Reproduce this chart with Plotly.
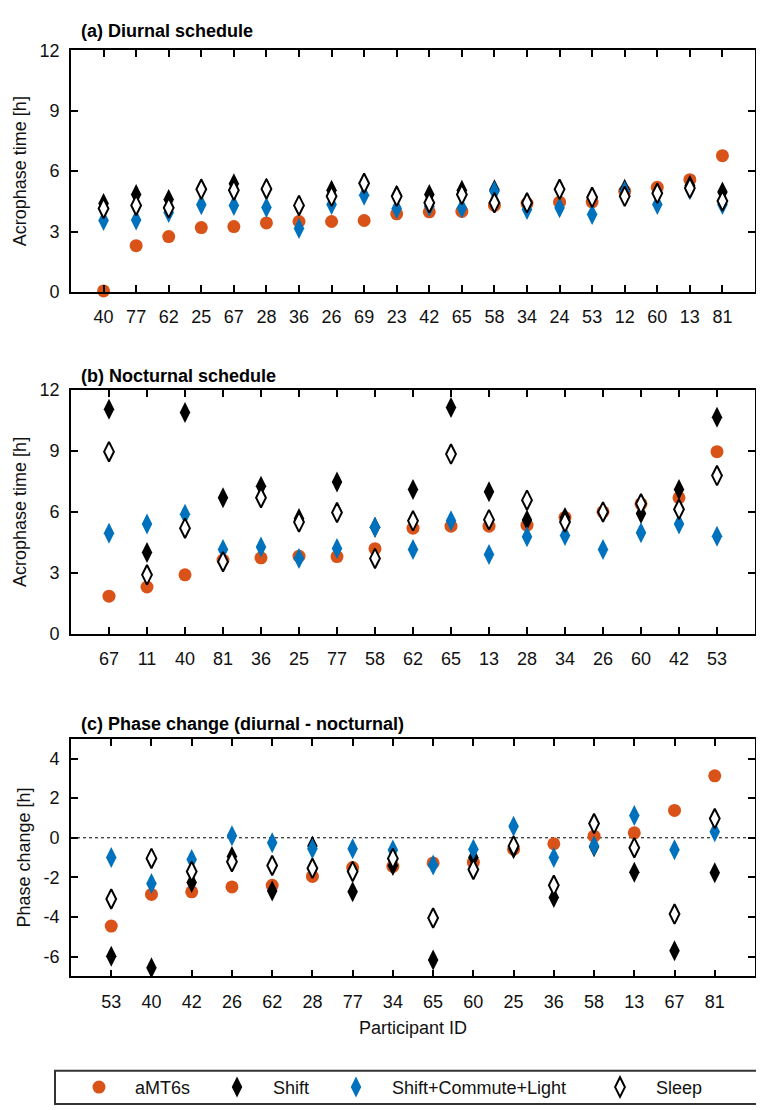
import plotly.graph_objects as go
from plotly.subplots import make_subplots

# (a) diurnal schedule
ids_a = ["40", "77", "62", "25", "67", "28", "36", "26", "69", "23",
         "42", "65", "58", "34", "24", "53", "12", "60", "13", "81"]
mt_a = [0.05, 2.3, 2.75, 3.2, 3.25, 3.43, 3.5, 3.5, 3.55, 3.88,
        3.98, 4.0, 4.3, 4.4, 4.46, 4.48, 5.0, 5.2, 5.58, 6.77]
shift_a = [4.4, 4.84, 4.6, 5.13, 5.38, 5.15, 4.28, 5.05, 5.4, 4.8,
           4.84, 5.05, 5.08, 4.4, 5.1, 4.7, 5.1, 4.92, 5.3, 4.97]
scl_a = [3.55, 3.58, 3.95, 4.33, 4.3, 4.2, 3.15, 4.35, 4.8, 4.15,
         4.26, 4.17, 5.0, 4.1, 4.18, 3.85, 5.0, 4.35, 5.08, 4.35]
sleep_a = [4.15, 4.3, 4.18, 5.1, 5.05, 5.12, 4.3, 4.75, 5.4, 4.75,
           4.43, 4.84, 4.43, 4.43, 5.1, 4.7, 4.75, 4.9, 5.16, 4.52]

# (b) nocturnal schedule
ids_b = ["67", "11", "40", "81", "36", "25", "77", "58", "62", "65",
         "13", "28", "34", "26", "60", "42", "53"]
mt_b = [1.85, 2.3, 2.9, 3.63, 3.74, 3.82, 3.8, 4.19, 5.2, 5.3,
        5.3, 5.35, 5.73, 6.0, 6.4, 6.7, 8.97]
shift_b = [11.06, 4.0, 10.9, 6.7, 7.27, 5.68, 7.47, 5.25, 7.1, 11.15,
           7.0, 5.6, 5.73, 6.0, 5.92, 7.1, 10.66]
scl_b = [4.95, 5.4, 5.89, 4.15, 4.27, 3.71, 4.2, 5.24, 4.15, 5.56,
         3.9, 4.78, 4.84, 4.15, 4.98, 5.4, 4.8]
sleep_b = [8.97, 2.9, 5.2, 3.55, 6.7, 5.5, 5.97, 3.71, 5.56, 8.85,
           5.62, 6.58, 5.5, 6.0, 6.4, 6.13, 7.79]

# (c) phase change
ids_c = ["53", "40", "42", "26", "62", "28", "77", "34", "65", "60",
         "25", "36", "58", "13", "67", "81"]
mt_c = [-4.46, -2.86, -2.73, -2.48, -2.4, -1.95, -1.5, -1.44, -1.27, -1.24,
        -0.58, -0.3, 0.08, 0.25, 1.38, 3.13]
shift_c = [-5.98, -6.56, -2.26, -0.95, -2.69, -0.42, -2.73, -1.4, -6.17, -0.99,
           -0.55, -3.02, -0.45, -1.74, -5.7, -1.77]
scl_c = [-0.99, -2.31, -1.1, 0.1, -0.25, -0.55, -0.55, -0.62, -1.37, -0.58,
         0.58, -1.0, -0.42, 1.13, -0.61, 0.3]
sleep_c = [-3.09, -1.04, -1.7, -1.21, -1.4, -1.54, -1.7, -1.04, -4.05, -1.6,
           -0.41, -2.4, 0.72, -0.5, -3.85, 0.97]

acro_ticks = [0, 3, 6, 9, 12]
phase_ticks = [-6, -4, -2, 0, 2, 4]
phase_ticktext = ["-6", "-4", "-2", "0", "2", "4"]

names = ["aMT6s", "Shift", "Shift+Commute+Light", "Sleep"]
ORANGE = "#D95319"
BLUE = "#0072BD"
FONT = "Liberation Sans, Arial, sans-serif"

W, H = 764, 1110

def px(x):
    return x / W

def py(y):
    return 1 - y / H

markers = [
    dict(symbol="circle", size=13, color=ORANGE, line=dict(width=0)),
    dict(symbol="diamond-tall", size=15, color="black", line=dict(width=0)),
    dict(symbol="diamond-tall", size=15, color=BLUE, line=dict(width=0)),
    dict(symbol="diamond-tall", size=14, color="white", line=dict(width=2, color="black")),
]

fig = make_subplots(rows=3, cols=1)

panels = [
    (ids_a, [mt_a, shift_a, scl_a, sleep_a]),
    (ids_b, [mt_b, shift_b, scl_b, sleep_b]),
    (ids_c, [mt_c, shift_c, scl_c, sleep_c]),
]
legend_ids = ["legend", "legend2", "legend3", "legend4"]

for r, (ids, series) in enumerate(panels, start=1):
    for k, vals in enumerate(series):
        fig.add_trace(go.Scatter(
            x=ids, y=vals, mode="markers", name=names[k],
            marker=markers[k], showlegend=(r == 1),
            legend=legend_ids[k], cliponaxis=False,
        ), row=r, col=1)

axis_common = dict(
    showline=True, linecolor="black", linewidth=1.8, mirror="ticks",
    ticks="inside", ticklen=7, tickwidth=1.5, tickcolor="black",
    showgrid=False, zeroline=False,
    tickfont=dict(family=FONT, size=18, color="#111"),
)

# panel positions (pixels): top, bottom
tops = [(33, 279), (379, 627), (734, 976)]
for r, (ids, _) in enumerate(panels, start=1):
    t, b = tops[r - 1]
    xa = "xaxis" if r == 1 else f"xaxis{r}"
    ya = "yaxis" if r == 1 else f"yaxis{r}"
    fig.layout[xa].update(
        domain=[px(63), px(747)], type="category",
        range=[-1, len(ids)], ticklabelstandoff=8, **axis_common)
    fig.layout[ya].update(domain=[py(b), py(t)], ticklabelstandoff=6, **axis_common)

fig.layout.yaxis.update(range=[0, 12], tickvals=acro_ticks)
fig.layout.yaxis2.update(range=[0, 12], tickvals=acro_ticks)
fig.layout.yaxis3.update(range=[-7, 5], tickvals=phase_ticks, ticktext=phase_ticktext)
fig.layout.xaxis3.update(
    title=dict(text="Participant ID", standoff=10,
               font=dict(family=FONT, size=18, color="#111")))

# y-axis titles
ytitles = [("Acrophase time [h]", 0, 12), ("Acrophase time [h]", 1, 12),
           ("Phase change [h]", 2, 16)]
for text, i, xc in ytitles:
    t, b = tops[i]
    fig.add_annotation(text=text, xref="paper", yref="paper",
                       x=px(xc), y=py((t + b) / 2), textangle=-90,
                       xanchor="center", yanchor="middle", showarrow=False,
                       font=dict(family=FONT, size=18, color="#111"))

fig.add_shape(type="line", xref="x3 domain", x0=0, x1=1, yref="y3", y0=0, y1=0,
              line=dict(color="black", width=1, dash="dot"), layer="below")

titles = [("(a) Diurnal schedule", 13), ("(b) Nocturnal schedule", 365),
          ("(c) Phase change (diurnal - nocturnal)", 719)]
for text, y in titles:
    fig.add_annotation(text=f"<b>{text}</b>", xref="paper", yref="paper",
                       x=px(71), y=py(y), xanchor="left", yanchor="middle",
                       showarrow=False, font=dict(family=FONT, size=18, color="black"))

# legend box and entries
fig.add_shape(type="rect", xref="paper", yref="paper",
              x0=px(47), x1=px(759), y0=py(1106), y1=py(1072),
              line=dict(color="#333", width=2), fillcolor="rgba(0,0,0,0)")

entry_x = [55, 193, 312, 576]
leg = dict(orientation="h", yanchor="middle", y=py(1089), xanchor="left",
           bgcolor="rgba(0,0,0,0)", borderwidth=0, itemwidth=62,
           font=dict(family=FONT, size=18, color="#111"))
fig.update_layout(
    legend=dict(leg, x=px(entry_x[0])),
    legend2=dict(leg, x=px(entry_x[1])),
    legend3=dict(leg, x=px(entry_x[2])),
    legend4=dict(leg, x=px(entry_x[3])),
)

fig.update_layout(
    width=W, height=H, margin=dict(l=0, r=0, t=0, b=0),
    paper_bgcolor="white", plot_bgcolor="white",
    font=dict(family=FONT, size=18, color="#111"),
)

fig.write_html("out.html")
